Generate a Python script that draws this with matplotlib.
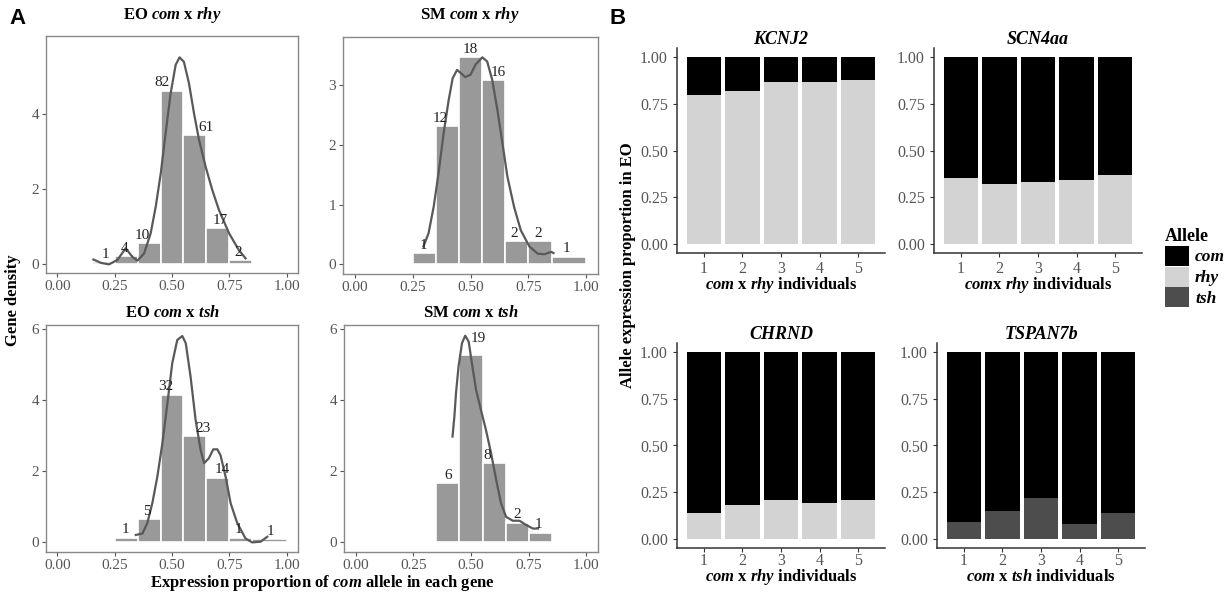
import numpy as np
import matplotlib
matplotlib.use('Agg')
import matplotlib.pyplot as plt
from matplotlib.patches import Patch

plt.rcParams['font.family'] = 'Liberation Serif'
plt.rcParams['mathtext.fontset'] = 'custom'
plt.rcParams['mathtext.it'] = 'Liberation Serif:italic:bold'
plt.rcParams['mathtext.rm'] = 'Liberation Serif:bold'
plt.rcParams['mathtext.bf'] = 'Liberation Serif:bold'

W, H = 1231, 593

# ---------------- panel A: histogram counts and density curves ----------------
eo_rhy_edges = [0.15, 0.25, 0.35, 0.45, 0.55, 0.65, 0.75, 0.85]
eo_rhy_counts = [1, 4, 10, 82, 61, 17, 2]
eo_rhy_kx = [0.157, 0.19, 0.225, 0.262, 0.298, 0.327, 0.349, 0.378, 0.407, 0.429, 0.451,
             0.472, 0.494, 0.516, 0.533, 0.552, 0.574, 0.596, 0.618, 0.647, 0.676,
             0.705, 0.749, 0.792, 0.821]
eo_rhy_ky = [0.13, 0.04, 0.0, 0.12, 0.43, 0.2, 0.10, 0.29, 0.83, 1.54, 2.43,
             3.49, 4.56, 5.32, 5.52, 5.40, 4.83, 4.03, 3.32, 2.60, 1.98,
             1.45, 0.83, 0.38, 0.16]

sm_rhy_edges = [0.25, 0.35, 0.45, 0.55, 0.65, 0.75, 0.85, 1.0]
sm_rhy_counts = [1, 12, 18, 16, 2, 2, 1]
sm_rhy_kx = [0.297, 0.319, 0.341, 0.362, 0.384, 0.406, 0.423, 0.442, 0.457, 0.478, 0.5,
             0.522, 0.551, 0.572, 0.594, 0.616, 0.638, 0.659, 0.688, 0.717, 0.754,
             0.790, 0.819, 0.848, 0.858]
sm_rhy_ky = [0.30, 0.52, 0.96, 1.52, 2.19, 2.75, 3.11, 3.25, 3.20, 3.13, 3.17,
             3.34, 3.46, 3.39, 3.08, 2.58, 2.02, 1.47, 0.96, 0.57, 0.30,
             0.18, 0.17, 0.21, 0.19]

eo_tsh_edges = [0.25, 0.35, 0.45, 0.55, 0.65, 0.75, 0.85, 1.0]
eo_tsh_counts = [1, 5, 32, 23, 14, 1, 1]
eo_tsh_kx = [0.342, 0.371, 0.392, 0.414, 0.436, 0.458, 0.480, 0.501, 0.523, 0.545, 0.560,
             0.581, 0.603, 0.625, 0.640, 0.661, 0.680, 0.698, 0.712, 0.734, 0.756,
             0.785, 0.821, 0.850, 0.887, 0.916]
eo_tsh_ky = [0.21, 0.25, 0.54, 1.10, 1.85, 2.79, 3.92, 5.04, 5.70, 5.81, 5.61,
             4.67, 3.45, 2.60, 2.23, 2.37, 2.62, 2.62, 2.45, 1.85, 1.10,
             0.54, 0.11, 0.0, 0.02, 0.16]

sm_tsh_edges = [0.35, 0.45, 0.55, 0.65, 0.75, 0.85]
sm_tsh_counts = [6, 19, 8, 2, 1]
sm_tsh_kx = [0.42, 0.428, 0.435, 0.446, 0.461, 0.475, 0.490, 0.504, 0.522, 0.543, 0.565,
             0.587, 0.609, 0.630, 0.652, 0.681, 0.710, 0.739, 0.768, 0.790]
sm_tsh_ky = [2.98, 3.54, 4.20, 4.95, 5.61, 5.82, 5.65, 5.04, 4.29, 3.73, 3.16,
             2.51, 1.76, 1.10, 0.72, 0.61, 0.61, 0.49, 0.39, 0.39]

# ---------------- panel B: allele proportions ----------------
individuals = [1, 2, 3, 4, 5]
kcnj2_rhy = [0.80, 0.82, 0.87, 0.865, 0.88]
scn4aa_rhy = [0.35, 0.32, 0.33, 0.34, 0.37]
chrnd_rhy = [0.14, 0.18, 0.21, 0.19, 0.21]
tspan7b_tsh = [0.09, 0.15, 0.22, 0.08, 0.14]

allele_colors = {'com': '#000000', 'rhy': '#d3d3d3', 'tsh': '#4d4d4d'}

fig = plt.figure(figsize=(W / 100, H / 100), dpi=100)


def box(l, t, r, b):
    return fig.add_axes([l / W, 1 - b / H, (r - l) / W, (b - t) / H])


def hist_panel(ax, edges, counts, kx, ky, nudge, ylim, yticks):
    edges = np.array(edges)
    counts = np.array(counts)
    widths = np.diff(edges)
    dens = counts / (counts.sum() * widths)
    ax.bar(edges[:-1], dens, width=widths, align='edge', color='#999999',
           edgecolor='white', linewidth=1.2)
    ax.plot(kx, ky, color='#595959', lw=1.6)
    for i, c in enumerate(counts):
        dx, dy = nudge[i]
        ax.annotate(str(c), (edges[i] + widths[i] / 2 + dx, dens[i]),
                    xytext=(0, 1 + dy), textcoords='offset points',
                    ha='center', va='bottom', fontsize=11, color='#222222')
    ax.set_xlim(-0.05, 1.05)
    ax.set_ylim(*ylim)
    ax.set_xticks([0, 0.25, 0.5, 0.75, 1.0])
    ax.set_xticklabels(['0.00', '0.25', '0.50', '0.75', '1.00'])
    ax.set_yticks(yticks)
    ax.tick_params(labelsize=11, labelcolor='#555555', color='#555555', length=3, pad=2)
    for s in ax.spines.values():
        s.set_color('#888888')
        s.set_linewidth(1.0)


ax1 = box(46, 36, 298, 273)
hist_panel(ax1, eo_rhy_edges, eo_rhy_counts, eo_rhy_kx, eo_rhy_ky,
           [(0.008, 0), (-0.005, 0), (-0.03, 0), (-0.042, 0), (0.047, 0), (0.012, 0), (-0.01, 0)],
           (-0.23, 6.09), [0, 2, 4])
ax2 = box(343, 37, 598, 274)
hist_panel(ax2, sm_rhy_edges, sm_rhy_counts, sm_rhy_kx, sm_rhy_ky,
           [(-0.003, 0), (-0.03, 0), (0, 0), (0.02, 0), (-0.012, 0), (-0.01, 0), (-0.012, 0)],
           (-0.16, 3.80), [0, 1, 2, 3])
ax3 = box(46, 325, 298, 552)
hist_panel(ax3, eo_tsh_edges, eo_tsh_counts, eo_tsh_kx, eo_tsh_ky,
           [(-0.005, 0), (-0.01, 0), (-0.028, 0), (0.035, 0), (0.02, 0), (-0.01, 0), (0.005, 0)],
           (-0.27, 6.12), [0, 2, 4, 6])
ax4 = box(344, 325, 598, 552)
hist_panel(ax4, sm_tsh_edges, sm_tsh_counts, sm_tsh_kx, sm_tsh_ky,
           [(0, 0), (0.033, 6), (-0.028, 0), (0, 0), (-0.006, 0)],
           (-0.27, 6.12), [0, 2, 4, 6])

tkw = dict(ha='center', va='center', fontsize=12, fontweight='bold')
fig.text(172 / W, 1 - 15 / H, r'EO $\mathit{com}$ x $\mathit{rhy}$', **tkw)
fig.text(470 / W, 1 - 15 / H, r'SM $\mathit{com}$ x $\mathit{rhy}$', **tkw)
fig.text(172 / W, 1 - 313 / H, r'EO $\mathit{com}$ x $\mathit{tsh}$', **tkw)
fig.text(471 / W, 1 - 313 / H, r'SM $\mathit{com}$ x $\mathit{tsh}$', **tkw)
fig.text(13 / W, 1 - 300 / H, 'Gene density', rotation=90, **tkw)
fig.text(322 / W, 1 - 583 / H, r'Expression proportion of $\mathit{com}$ allele in each gene', **tkw)


# ---------------- panel B ----------------
def bar_panel(ax, lower, lower_name, title, xlab, xlab_y, tick_pad):
    lower = np.array(lower)
    ax.bar(individuals, lower, width=0.9, color=allele_colors[lower_name], linewidth=0)
    ax.bar(individuals, 1 - lower, bottom=lower, width=0.9, color=allele_colors['com'], linewidth=0)
    ax.set_xlim(0.3, 5.7)
    ax.set_ylim(-0.05, 1.05)
    ax.set_xticks(individuals)
    ax.set_yticks([0, 0.25, 0.5, 0.75, 1.0])
    ax.set_yticklabels(['0.00', '0.25', '0.50', '0.75', '1.00'])
    ax.tick_params(labelsize=11.5, labelcolor='#555555', color='#333333', length=3)
    ax.tick_params(axis='x', pad=tick_pad)
    ax.spines['top'].set_visible(False)
    ax.spines['right'].set_visible(False)
    for s in ('left', 'bottom'):
        ax.spines[s].set_color('#333333')
        ax.spines[s].set_linewidth(1.1)
    ax.set_title(title, fontsize=13, fontweight='bold', style='italic', pad=1)
    pos = ax.get_position()
    fig.text((pos.x0 + pos.x1) / 2, 1 - xlab_y / H, xlab, **tkw)


bx1 = box(677, 48, 885, 253)
bar_panel(bx1, kcnj2_rhy, 'rhy', 'KCNJ2', r'$\mathit{com}$ x $\mathit{rhy}$ individuals', 285, 3)
bx2 = box(934, 48, 1142, 253)
bar_panel(bx2, scn4aa_rhy, 'rhy', 'SCN4aa', r'$\mathit{com}$x $\mathit{rhy}$ individuals', 285, 3)
bx3 = box(677, 343, 885, 548)
bar_panel(bx3, chrnd_rhy, 'rhy', 'CHRND', r'$\mathit{com}$ x $\mathit{rhy}$ individuals', 577, 0.5)
bx4 = box(937, 343, 1145, 548)
bar_panel(bx4, tspan7b_tsh, 'tsh', 'TSPAN7b', r'$\mathit{com}$ x $\mathit{tsh}$ individuals', 577, 0.5)

fig.text(628 / W, 1 - 265 / H, 'Allele expression proportion in EO', rotation=90, **tkw)

handles = [Patch(facecolor=allele_colors[k], edgecolor='none') for k in ('com', 'rhy', 'tsh')]
leg = fig.legend(handles, ['com', 'rhy', 'tsh'], title='Allele', loc='upper left',
                 bbox_to_anchor=(1163 / W, 1 - 226 / H), frameon=False,
                 prop=dict(family='Liberation Serif', weight='bold', style='italic', size=12.5),
                 title_fontproperties=dict(family='Liberation Serif', weight='bold', size=13),
                 handlelength=1.4, handleheight=1.4, handletextpad=0.35, labelspacing=0.05,
                 alignment='left', borderpad=0.1, borderaxespad=0)

fig.text(18 / W, 1 - 18 / H, 'A', family='Liberation Sans', fontweight='bold', fontsize=16,
         ha='center', va='center')
fig.text(618 / W, 1 - 18 / H, 'B', family='Liberation Sans', fontweight='bold', fontsize=16,
         ha='center', va='center')

fig.savefig('out.png', dpi=100, facecolor='white')
